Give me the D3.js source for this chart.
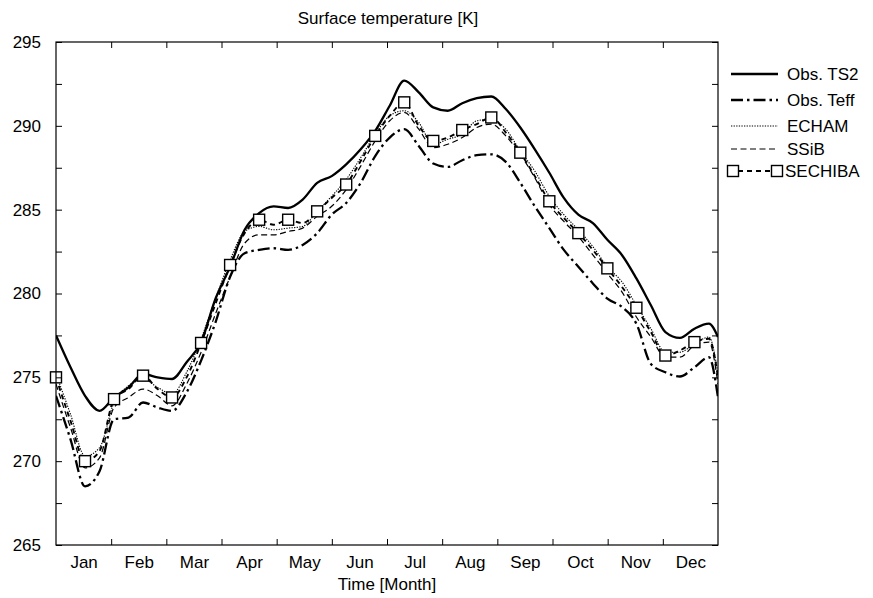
<!DOCTYPE html>
<html>
<head>
<meta charset="utf-8">
<script src="https://cdn.jsdelivr.net/npm/d3@7"></script>
<style>
  html, body { margin: 0; padding: 0; background: #fff; }
  svg { display: block; }
  text { font-family: "Liberation Sans", Arial, Helvetica, sans-serif; fill: #000; }
</style>
</head>
<body>
<svg id="chart" width="873" height="598"></svg>
<script>
// ---- data ----
const days = [0, 8, 16, 24, 32, 40, 48, 56, 64, 72, 80, 88, 96, 104, 112, 120, 128, 136, 144, 152,
  160, 168, 176, 184, 192, 200, 208, 216, 224, 232, 240, 248, 256, 264, 272, 280, 288, 296, 304,
  312, 320, 328, 336, 344, 352, 360, 365];

const obsTS2 = [277.5, 275.6, 273.9, 273.0, 273.8, 274.4, 275.2, 275.0, 274.9, 275.9, 277.1, 279.7,
  281.6, 283.8, 284.8, 285.2, 285.1, 285.6, 286.6, 287.0, 287.7, 288.6, 289.7, 291.2, 292.7, 292.0,
  291.1, 290.9, 291.35, 291.65, 291.75, 291.0, 289.9, 288.6, 287.2, 285.7, 284.7, 284.2, 283.2,
  282.3, 280.9, 279.3, 277.7, 277.35, 277.9, 278.2, 277.4];

const obsTeff = [273.9, 271.3, 268.5, 269.4, 272.5, 272.6, 273.5, 273.2, 273.0, 274.1, 276.0, 278.3,
  281.0, 282.4, 282.6, 282.7, 282.6, 282.9, 283.6, 284.7, 285.4, 286.6, 288.2, 289.3, 289.8, 288.8,
  287.75, 287.55, 287.95, 288.25, 288.3, 287.85, 286.6, 285.2, 283.9, 282.6, 281.6, 280.6, 279.7,
  279.2, 278.2, 275.8, 275.3, 275.05, 275.6, 276.2, 273.8];

const echam = [275.2, 272.8, 270.3, 270.8, 273.5, 274.5, 274.9, 274.4, 274.0, 275.3, 277.3, 279.7,
  282.0, 283.7, 284.0, 283.8, 283.9, 284.0, 284.9, 285.8, 286.8, 288.1, 289.5, 290.6, 290.9, 290.2,
  288.9, 289.2, 289.5, 290.3, 290.4, 289.8, 288.5, 287.3, 285.8, 284.7, 283.8, 282.8, 281.6,
  280.7, 279.3, 277.9, 276.5, 276.5, 277.0, 277.4, 275.2];

const ssib = [274.6, 272.0, 269.6, 270.2, 273.2, 273.8, 274.3, 273.9, 273.3, 274.6, 276.5, 278.8,
  281.0, 283.0, 283.5, 283.5, 283.7, 283.9, 284.6, 285.2, 286.2, 287.6, 289.1, 290.3, 290.8, 289.8,
  288.7, 288.9, 289.3, 289.9, 290.1, 289.4, 288.3, 286.9, 285.3, 284.3, 283.4, 282.3, 281.2,
  280.1, 278.6, 277.4, 276.2, 276.2, 276.9, 277.1, 274.6];

const sechiba = [275.0, 272.4, 270.0, 270.6, 273.7, 274.3, 275.1, 274.3, 273.8, 275.0, 277.05, 279.4,
  281.7, 283.6, 284.4, 284.1, 284.4, 284.2, 284.9, 285.7, 286.5, 287.9, 289.4, 290.6, 291.4, 290.0,
  289.1, 289.3, 289.75, 290.1, 290.5, 289.6, 288.4, 287.0, 285.5, 284.5, 283.6, 282.6, 281.5,
  280.4, 279.15, 277.7, 276.3, 276.6, 277.1, 277.3, 275.0];

const monthLabels = ["Jan", "Feb", "Mar", "Apr", "May", "Jun", "Jul", "Aug", "Sep", "Oct", "Nov", "Dec"];
const yTicks = [265, 267.5, 270, 272.5, 275, 277.5, 280, 282.5, 285, 287.5, 290, 292.5, 295];
const seriesNames = ["Obs. TS2", "Obs. Teff", "ECHAM", "SSiB", "SECHIBA"];

// ---- layout ----
const svg = d3.select("#chart");
const L = 56, R = 718, T = 42, B = 545;
const FS = "17px";
const x = d3.scaleLinear().domain([0, 365]).range([L, R]);
const y = d3.scaleLinear().domain([265, 295]).range([B, T]);

const monthBounds = d3.range(0, 13).map(i => i * 365 / 12);
const monthMids = d3.range(0, 12).map(i => (i + 0.5) * 365 / 12);

const styles = [
  { data: obsTS2,  width: 2.3, dash: null },
  { data: obsTeff, width: 2.3, dash: "12,4,2.5,4" },
  { data: echam,   width: 1.1, dash: "1.3,1.3" },
  { data: ssib,    width: 1.2, dash: "6,3.5" },
  { data: sechiba, width: 1.9, dash: "5,4" }
];

svg.append("clipPath").attr("id", "clip").append("rect")
  .attr("x", L).attr("y", T).attr("width", R - L).attr("height", B - T);

const line = d3.line().x((d, i) => x(days[i])).y(d => y(d)).curve(d3.curveMonotoneX);

const plot = svg.append("g").attr("clip-path", "url(#clip)");
styles.forEach(s => {
  plot.append("path")
    .attr("d", line(s.data))
    .attr("fill", "none")
    .attr("stroke", "#000")
    .attr("stroke-width", s.width)
    .attr("stroke-dasharray", s.dash)
    .attr("stroke-linejoin", "round");
});

// SECHIBA markers every 16 days
const markerIdx = d3.range(0, 45, 2);
svg.append("g").selectAll("rect").data(markerIdx).join("rect")
  .attr("x", i => x(days[i]) - 5.5)
  .attr("y", i => y(sechiba[i]) - 5.5)
  .attr("width", 11).attr("height", 11)
  .attr("fill", "#fff").attr("stroke", "#000").attr("stroke-width", 1.4);

// frame
svg.append("rect").attr("x", L).attr("y", T).attr("width", R - L).attr("height", B - T)
  .attr("fill", "none").attr("stroke", "#000").attr("stroke-width", 1.2);

function styleAxis(g) {
  g.select(".domain").remove();
  g.selectAll(".tick line").attr("stroke", "#000").attr("stroke-width", 1);
  g.selectAll("text").style("font-size", FS).style("font-family", "'Liberation Sans', Arial, sans-serif");
}

// x ticks (inward, top and bottom)
svg.append("g").attr("transform", `translate(0,${B})`)
  .call(d3.axisBottom(x).tickValues(monthBounds.slice(1, 12)).tickSize(-6).tickFormat(""))
  .call(styleAxis);
svg.append("g").attr("transform", `translate(0,${T})`)
  .call(d3.axisTop(x).tickValues(monthBounds.slice(1, 12)).tickSize(-6).tickFormat(""))
  .call(styleAxis);
// month labels
svg.append("g").attr("transform", `translate(0,${B})`)
  .call(d3.axisBottom(x).tickValues(monthMids).tickSize(0).tickPadding(11)
    .tickFormat((d, i) => monthLabels[i]))
  .call(styleAxis);

// y ticks
svg.append("g").attr("transform", `translate(${L},0)`)
  .call(d3.axisLeft(y).tickValues(yTicks).tickSize(-6).tickPadding(15)
    .tickFormat(d => d % 5 === 0 ? d3.format("d")(d) : ""))
  .call(styleAxis);
svg.append("g").attr("transform", `translate(${R},0)`)
  .call(d3.axisRight(y).tickValues(yTicks).tickSize(-6).tickFormat(""))
  .call(styleAxis);

// titles
svg.append("text").attr("x", (L + R) / 2 + 1).attr("y", 24).attr("text-anchor", "middle")
  .style("font-size", FS).text("Surface temperature [K]");
svg.append("text").attr("x", (L + R) / 2).attr("y", 590).attr("text-anchor", "middle")
  .style("font-size", FS).text("Time [Month]");

// legend
const legY = [74, 100, 126, 149, 171];
const leg = svg.append("g").selectAll("g").data(seriesNames).join("g")
  .attr("transform", (d, i) => `translate(0,${legY[i]})`);
leg.append("line")
  .attr("x1", (d, i) => i === 4 ? 738 : 731).attr("x2", (d, i) => i === 4 ? 772 : 778)
  .attr("y1", 0).attr("y2", 0)
  .attr("stroke", "#000")
  .attr("stroke-width", (d, i) => styles[i].width)
  .attr("stroke-dasharray", (d, i) => styles[i].dash);
leg.filter((d, i) => i === 4).selectAll("rect").data([733, 777]).join("rect")
  .attr("x", d => d - 5.5).attr("y", -5.5).attr("width", 11).attr("height", 11)
  .attr("fill", "#fff").attr("stroke", "#000").attr("stroke-width", 1.4);
leg.append("text").attr("x", (d, i) => i === 4 ? 785 : 787).attr("y", 0).attr("dy", "0.35em")
  .style("font-size", FS).text(d => d);
</script>
</body>
</html>
